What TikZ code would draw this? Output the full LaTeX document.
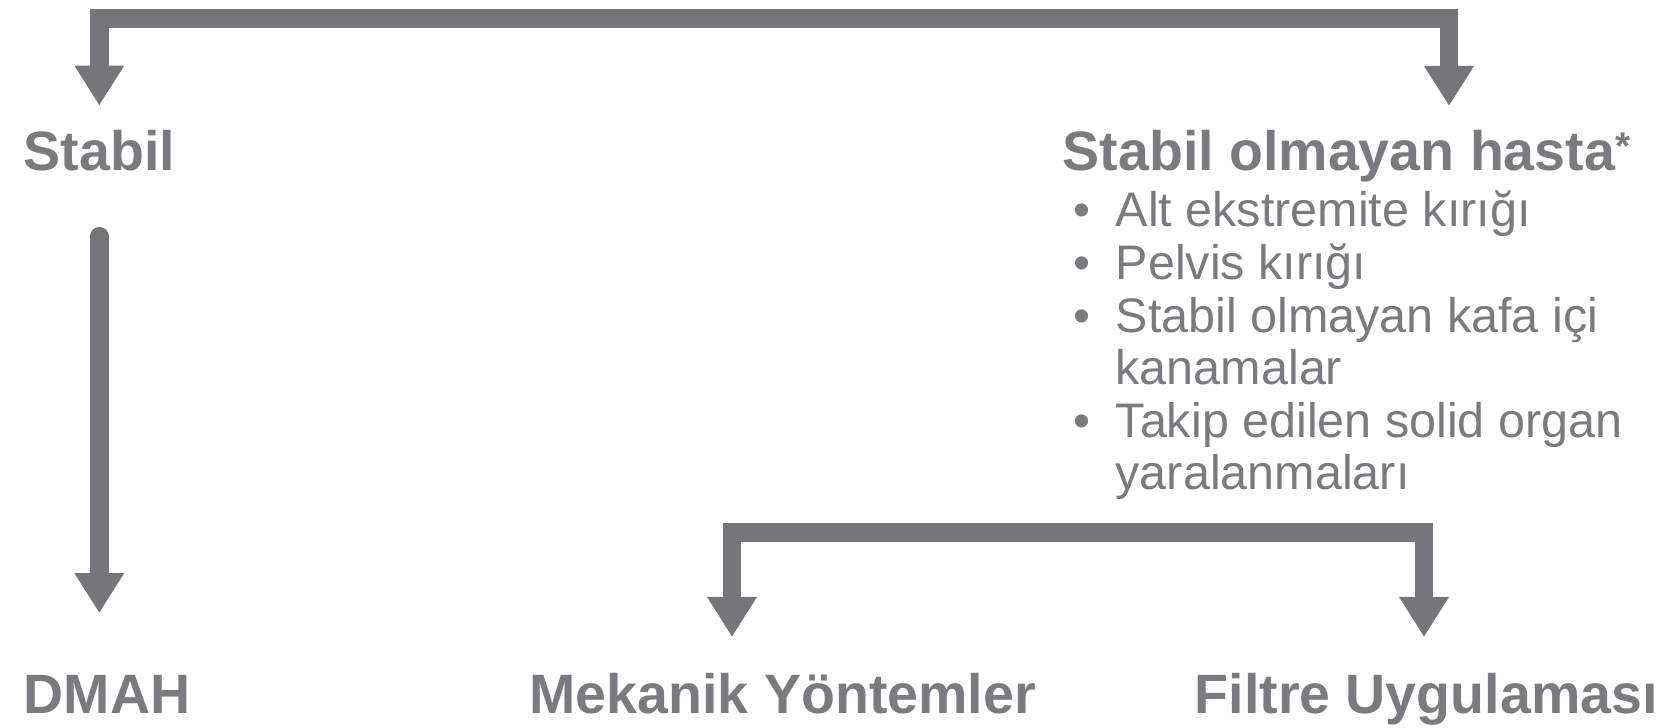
\documentclass[tikz,border=0pt]{standalone}
\usepackage{fontspec}
\setmainfont{Liberation Sans}
\usepackage{xcolor}
\usepackage{tikz}
\usetikzlibrary{arrows.meta,positioning}
\definecolor{flowgray}{RGB}{117,118,121}
\definecolor{txtgray}{RGB}{122,123,126}

\begin{document}
\begin{tikzpicture}[
  head/.style={anchor=base west, inner sep=0pt, text=txtgray, font=\fontsize{15.8}{18}\selectfont\bfseries},
  item/.style={anchor=base west, inner sep=0pt, text=txtgray, font=\fontsize{13.8}{15}\selectfont},
  arr/.style={draw=flowgray, line width=0.185cm, -{Triangle[width=0.47cm,length=0.40cm]}},
  bracket/.style={arr, {Triangle[width=0.47cm,length=0.40cm]}-{Triangle[width=0.47cm,length=0.40cm]}}]
\useasboundingbox (0,0) rectangle (16.6,7.28);

% headings
\node[head] (stabil) at (0.23,5.57) {Stabil};
\node[head] (unstable) at (10.62,5.57) {Stabil olmayan hasta\raisebox{3.4pt}{\fontsize{11}{11}\selectfont *}};
\node[head] (dmah) at (0.23,0.14) {DMAH};
\node[head] (mekanik) at (5.29,0.14) {Mekanik Yöntemler};
\node[head] (filtre) at (11.94,0.14) {Filtre Uygulaması};

% list under the unstable patient
\foreach \i/\txt in {0/Alt ekstremite kırığı, 1/Pelvis kırığı, 2/Stabil olmayan kafa içi,
                     3/kanamalar, 4/Takip edilen solid organ, 5/yaralanmaları}
  \node[item] (line\i) at (11.15,5.01-0.526*\i) {\txt};
\foreach \i in {0,1,2,4}
  \node[item, anchor=base] (dot\i) at (10.82,5.01-0.526*\i) {\textbullet};

% arrow ends
\coordinate[above=0.245cm of stabil] (stip);
\coordinate (utip) at (14.49,6.22);
\coordinate (topbar) at (8,7.095);
\coordinate (mtip) at (7.32,0.91);
\coordinate (ftip) at (14.24,0.91);
\coordinate (lowbar) at (10,1.955);

\draw[bracket] (stip) |- (topbar) -| (utip);
\draw[arr, line cap=round, shorten <=0.64cm, shorten >=0.62cm] (stabil.south) -- (stabil.south |- dmah.north);
\draw[bracket] (mtip) |- (lowbar) -| (ftip);
\end{tikzpicture}
\end{document}
